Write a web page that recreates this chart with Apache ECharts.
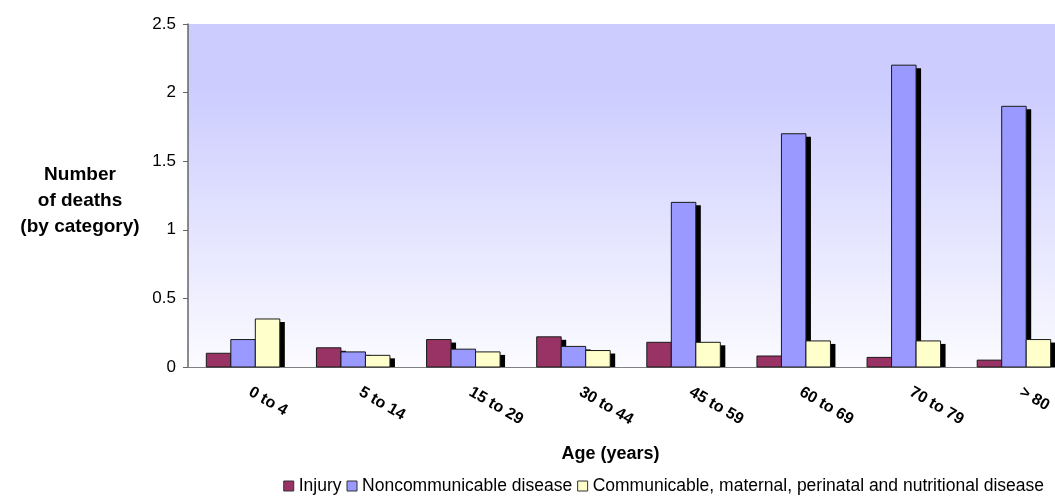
<!DOCTYPE html>
<html>
<head>
<meta charset="utf-8">
<script src="https://cdn.jsdelivr.net/npm/echarts@6/dist/echarts.min.js"></script>
<style>
  html, body { margin: 0; padding: 0; background: #fff; }
  #chart { width: 1055px; height: 503px; }
</style>
</head>
<body>
<div id="chart"></div>
<script>
  const categories = ['0 to 4', '5 to 14', '15 to 29', '30 to 44', '45 to 59', '60 to 69', '70 to 79', '> 80']
  const injury = [0.1, 0.14, 0.2, 0.22, 0.18, 0.08, 0.07, 0.05]
  const noncommunicable = [0.2, 0.11, 0.13, 0.15, 1.2, 1.7, 2.2, 1.9]
  const communicable = [0.35, 0.085, 0.11, 0.12, 0.18, 0.19, 0.19, 0.2]
  const seriesNames = ['Injury', 'Noncommunicable disease', 'Communicable, maternal, perinatal and nutritional disease']
  const seriesColors = ['#993366', '#9999ff', '#ffffcc']

  const font = '"Liberation Sans", Arial, sans-serif'
  const BAR_W = 24.5
  const chart = echarts.init(document.getElementById('chart'))

  // excel-style bar: hard black drop shadow behind a thin outlined rect
  function barRenderer(k, color) {
    return (params, api) => {
      const base = api.coord([api.value(0), 0])
      const top = api.coord([api.value(0), api.value(1)])
      const left = base[0] - 1.5 * BAR_W + k * BAR_W
      const h = base[1] - top[1]
      return {
        type: 'group',
        children: [
          {
            type: 'rect',
            shape: { x: left + 5, y: top[1] + 3, width: BAR_W, height: Math.max(h - 3, 0) },
            style: { fill: '#000' },
          },
          {
            type: 'rect',
            shape: { x: left, y: top[1], width: BAR_W, height: h },
            style: { fill: color, stroke: '#1a1a1a', lineWidth: 1 },
          },
        ],
      }
    }
  }

  const makeSeries = (k, values) => ({
    name: seriesNames[k],
    type: 'custom',
    renderItem: barRenderer(k, seriesColors[k]),
    itemStyle: { color: seriesColors[k] },
    encode: { x: 0, y: 1 },
    data: values.map((v, i) => [i, v]),
  })

  chart.setOption({
    animation: false,
    textStyle: { fontFamily: font },
    grid: {
      left: 188,
      top: 24,
      width: 881,
      height: 343,
      show: true,
      borderWidth: 0,
      outerBoundsMode: 'none',
      backgroundColor: new echarts.graphic.LinearGradient(0, 0, 0, 1, [
        { offset: 0, color: '#ccccff' },
        { offset: 0.18, color: '#ccccff' },
        { offset: 1, color: '#fbfbff' },
      ]),
    },
    graphic: [
      {
        type: 'text',
        x: 80,
        y: 162,
        style: {
          text: 'Number\nof deaths\n(by category)',
          font: 'bold 19px ' + font,
          fill: '#000',
          align: 'center',
          verticalAlign: 'top',
          lineHeight: 26,
        },
      },
    ],
    legend: {
      right: 6,
      top: 472,
      itemWidth: 10,
      itemHeight: 10,
      itemGap: 5,
      icon: 'rect',
      textStyle: { fontSize: 17.5, color: '#000', fontFamily: font },
      itemStyle: { borderColor: '#333', borderWidth: 1 },
      data: seriesNames,
    },
    xAxis: {
      type: 'category',
      data: categories,
      name: 'Age (years)',
      nameLocation: 'middle',
      nameGap: 78,
      nameTextStyle: { fontSize: 18, fontWeight: 'bold', color: '#000', padding: [0, 36, 0, 0] },
      axisLine: { lineStyle: { color: '#808080', width: 1 } },
      axisTick: { length: 5, lineStyle: { color: '#808080' } },
      axisLabel: {
        rotate: -30,
        margin: 20,
        interval: 0,
        fontSize: 16,
        fontWeight: 'bold',
        color: '#000',
        padding: [0, 0, 0, 8],
      },
    },
    yAxis: {
      type: 'value',
      min: 0,
      max: 2.5,
      interval: 0.5,
      splitLine: { show: false },
      axisLine: { show: true, lineStyle: { color: '#666', width: 1.5 } },
      axisTick: { show: true, length: 5, lineStyle: { color: '#666' } },
      axisLabel: { fontSize: 17, color: '#000', margin: 12 },
    },
    series: [
      makeSeries(0, injury),
      makeSeries(1, noncommunicable),
      makeSeries(2, communicable),
    ],
  })
</script>
</body>
</html>
